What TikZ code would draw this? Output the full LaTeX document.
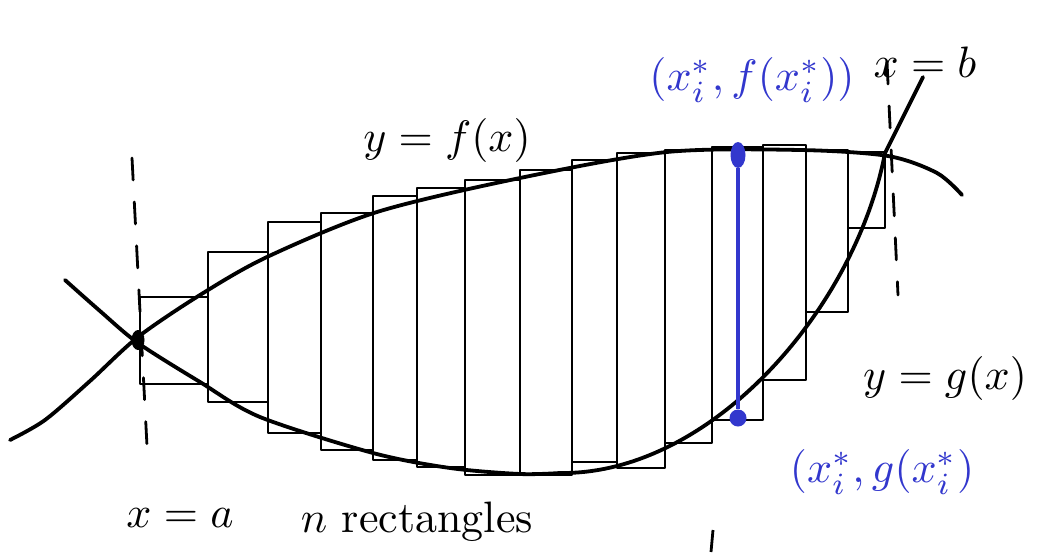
\documentclass[tikz,border=0pt]{standalone}
\usepackage{tikz}
\usetikzlibrary{shapes.geometric}
\definecolor{penblue}{RGB}{50,55,205}
\tikzset{
  curve/.style={line width=3.8pt, line cap=round, line join=round},
  strip/.style={line width=2.8pt, line join=round},
  guide/.style={line width=2.8pt, dash pattern=on 22pt off 22pt, line cap=round},
  hand/.style={scale=4.4, inner sep=0pt},
}
\begin{document}
\begin{tikzpicture}[x=1pt,y=-1pt]
\useasboundingbox (0,0) rectangle (1049,552);

% Rectangulos entre las curvas
\foreach \xa/\xb/\ya/\yb in {140/208/297/384, 208/268/252/402, 268/321/222/433,
    321/373/213/450, 373/417/196/460, 417/465/188/467, 465/520/180/475,
    520/572/170/475, 572/617/160/462, 617/665/153/468, 665/712/150/443,
    712/763/147/420, 763/806/145/380, 806/848/150/312, 848/885/152/228}
	\draw[strip] (\xa,\ya) rectangle (\xb,\yb);

% Curvas
\draw[curve] plot[smooth] coordinates {(10,440) (45,420) (90,381) (138,337) (200,295)
    (267,257) (377,212) (520,178) (667,152) (800,150) (888,156) (937,173) (962,195)};
\draw[curve] plot[smooth] coordinates {(65,280) (100,311) (138,343) (200,382) (260,417)
    (373,453) (450,468) (520,474) (560,473)}
  .. controls (710,475) and (855,310) .. (885,153) -- (923,77);

% Limites x=a, x=b
\node[ellipse, fill, inner sep=0pt, minimum width=13pt, minimum height=20pt] (A) at (138,340) {};
\coordinate (atop) at (132,158);
\coordinate (abot) at (148,465);
\draw[guide] (atop) -- (abot);
\coordinate (btop) at (887,62);
\coordinate (bbot) at (898,295);
\draw[guide] (btop) -- (bbot);

% Segmento en x_i^*
\node[ellipse, fill=penblue, inner sep=0pt, minimum width=15pt, minimum height=26pt] (fpt) at (738,155) {};
\node[circle, fill=penblue, inner sep=0pt, minimum size=17pt] (gpt) at (738,418) {};
\draw[penblue, line width=4pt] (fpt) -- (gpt);

% Etiquetas
\node[hand] (fx) at (447,140) {$y=f(x)$};
\node[hand] (gx) at (945,378) {$y=g(x)$};
\node[hand, penblue] (fstar) at (752,80) {$(x_i^*,f(x_i^*))$};
\node[hand, penblue] (gstar) at (882,472) {$(x_i^*,g(x_i^*)$};
\node[hand] (xb) at (925,62) {$x=b$};
\node[hand] (xa) at (180,518) {$x=a$};
\node[hand, anchor=west] (nrect) at (300,522) {$n$ rectangles};
\coordinate (tick) at (713,530);
\draw[strip] (tick) -- ++(-2,22);
\end{tikzpicture}
\end{document}
